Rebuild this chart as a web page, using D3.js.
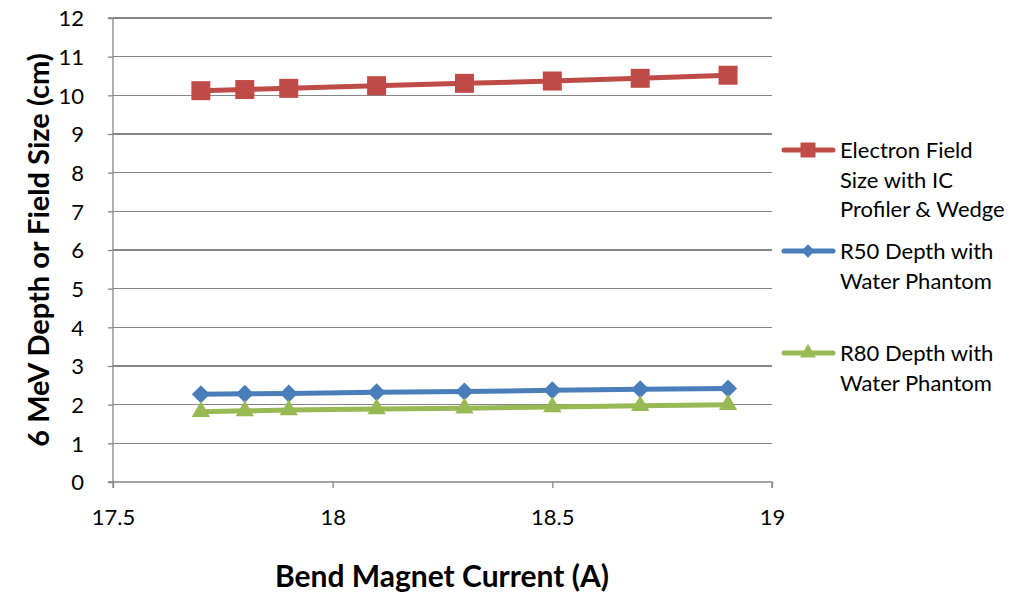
<!DOCTYPE html>
<html><head><meta charset="utf-8">
<script src="https://cdn.jsdelivr.net/npm/d3@7"></script>
<style>body{margin:0;background:#fff}svg{display:block}</style>
</head><body>
<svg id="c" width="1019" height="595"></svg>
<script>
const current = [17.7, 17.8, 17.9, 18.1, 18.3, 18.5, 18.7, 18.9];
const fieldSize = [10.12, 10.15, 10.18, 10.25, 10.31, 10.37, 10.44, 10.52];
const r50 = [2.27, 2.28, 2.29, 2.32, 2.34, 2.37, 2.40, 2.42];
const r80 = [1.82, 1.84, 1.86, 1.89, 1.91, 1.94, 1.97, 2.00];
const xTicks = [17.5, 18, 18.5, 19];
const yTicks = [0,1,2,3,4,5,6,7,8,9,10,11,12];
const seriesNames = [["Electron Field","Size with IC","Profiler & Wedge"],["R50 Depth with","Water Phantom"],["R80 Depth with","Water Phantom"]];
const colors = ["#BE4B48","#4A7EBB","#98B954"];
const font = "Lato, 'Open Sans', sans-serif";

const svg = d3.select("#c");
const x = d3.scaleLinear().domain([17.5,19]).range([113,772]);
const y = d3.scaleLinear().domain([0,12]).range([482,18]);

svg.append("g").selectAll("line").data(yTicks.filter(d=>d>0)).join("line")
  .attr("x1",x(17.5)).attr("x2",x(19)).attr("y1",d=>y(d)).attr("y2",d=>y(d))
  .attr("stroke","#868686").attr("stroke-width",1.3).attr("shape-rendering","crispEdges");

const yAxis = svg.append("g").attr("transform",`translate(${x(17.5)},0)`)
  .call(d3.axisLeft(y).tickValues(yTicks).tickSize(5).tickPadding(24).tickFormat(d3.format("d")));
const xAxis = svg.append("g").attr("transform",`translate(0,${y(0)})`)
  .call(d3.axisBottom(x).tickValues(xTicks).tickSize(6).tickPadding(22).tickFormat(d=>String(d)));
[yAxis,xAxis].forEach(g=>{
  g.selectAll("path,line").attr("stroke","#868686").attr("stroke-width",1.3);
  g.selectAll("text").attr("font-family",font).attr("font-size",22).attr("fill","#000");
});
yAxis.selectAll("text").attr("dy","0.36em");
xAxis.selectAll("text").attr("dy","0.7em");
yAxis.select(".domain").attr("d",`M-5,${y(12)}H0V${y(0)}H-5`);
xAxis.select(".domain").attr("d",`M${x(17.5)},6V0H${x(19)}V6`);

const line = d3.line().x((d,i)=>x(current[i])).y(d=>y(d));
const allSeries = [fieldSize, r50, r80];
const symbols = [d3.symbolSquare, d3.symbolSquare, d3.symbolTriangle];
const rot = [0, 45, 0];
const symSizes = [361, 162, 145];
const legSizes = [225, 90, 110];

allSeries.forEach((s,k)=>{
  svg.append("path").datum(s).attr("d",line).attr("fill","none")
    .attr("stroke",colors[k]).attr("stroke-width",5).attr("stroke-linejoin","round");
  svg.append("g").selectAll("path").data(s).join("path")
    .attr("transform",(d,i)=>`translate(${x(current[i])},${y(d)}) rotate(${rot[k]})`)
    .attr("d",d3.symbol(symbols[k], symSizes[k])).attr("fill",colors[k]);
});

const legY = [150, 251, 353];
seriesNames.forEach((names,k)=>{
  const g = svg.append("g");
  g.append("line").attr("x1",784).attr("x2",833).attr("y1",legY[k]).attr("y2",legY[k])
    .attr("stroke",colors[k]).attr("stroke-width",5).attr("stroke-linecap","round");
  g.append("path").attr("transform",`translate(808,${legY[k]}) rotate(${rot[k]})`)
    .attr("d",d3.symbol(symbols[k], legSizes[k])).attr("fill",colors[k]);
  names.forEach((t,j)=>{
    g.append("text").attr("x",840).attr("y",legY[k]+8+j*29.5).text(t)
      .attr("font-family",font).attr("font-size",22).attr("fill","#000");
  });
});

svg.append("text").attr("x",442).attr("y",587).attr("text-anchor","middle")
  .attr("font-family",font).attr("font-weight","bold").attr("font-size",30).text("Bend Magnet Current (A)");
svg.append("text").attr("transform","translate(49,250) rotate(-90)").attr("text-anchor","middle")
  .attr("font-family",font).attr("font-weight","bold").attr("font-size",29).text("6 MeV Depth or Field Size (cm)");
</script>
</body></html>
